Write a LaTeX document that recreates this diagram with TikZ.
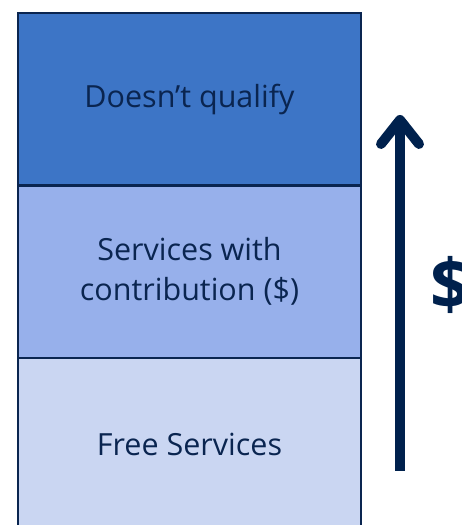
\documentclass[tikz,border=0pt]{standalone}
\usepackage{fontspec}
\setmainfont{Open Sans}
\usetikzlibrary{positioning,arrows.meta}

\definecolor{navy}{HTML}{0A2550}
\definecolor{arrownavy}{HTML}{00214D}
\definecolor{topblue}{HTML}{3D75C6}
\definecolor{midblue}{HTML}{97B0EB}
\definecolor{lowblue}{HTML}{CAD6F2}

\begin{document}
\begin{tikzpicture}[
    x=1pt, y=1pt,
    node distance=0pt,
    tier/.style={rectangle, draw=navy, line width=2.5pt, outer sep=0pt, inner sep=0pt, minimum width=343pt, minimum height=172.5pt, align=center, text=navy, font=\fontsize{30.5}{40}\selectfont},
    rise/.style={-{Straight Barb[length=24pt, width=38pt, round]}, line width=10pt, draw=arrownavy},
    money/.style={font=\fontsize{70}{70}\selectfont\bfseries, text=arrownavy, inner sep=0pt}
]
    \useasboundingbox (0,0) rectangle (461,525);

    % Fasce
    \node[tier, fill=topblue, anchor=north west] (noqualify) at (18,512) {Doesn’t qualify};
    \node[tier, fill=midblue, below=of noqualify] (contribution) {Services with\\contribution (\$)};
    \node[tier, fill=lowblue, below=of contribution] (free) {Free Services};

    % Freccia del costo
    \coordinate (low) at (400,54);
    \coordinate (high) at (400,410);
    \draw[rise] (low) -- (high);
    \node[money] (dollar) at (450,240) {\$};
\end{tikzpicture}
\end{document}
